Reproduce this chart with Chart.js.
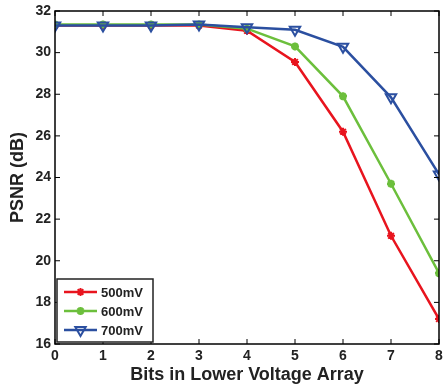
<!DOCTYPE html>
<html>
<head>
<meta charset="utf-8">
<script src="https://cdn.jsdelivr.net/npm/chart.js@4.4.1/dist/chart.umd.min.js"></script>
<style>
  html, body { margin: 0; padding: 0; background: #fff; }
  #wrap { width: 447px; height: 390px; }
</style>
</head>
<body>
<div id="wrap"><canvas id="psnr" width="447" height="390"></canvas></div>
<script>
// 데이터
const bits = [0, 1, 2, 3, 4, 5, 6, 7, 8];
const psnr500 = [31.3, 31.3, 31.3, 31.3, 31.05, 29.55, 26.2, 21.2, 17.2];
const psnr600 = [31.35, 31.35, 31.35, 31.35, 31.15, 30.3, 27.9, 23.7, 19.4];
const psnr700 = [31.3, 31.3, 31.3, 31.35, 31.22, 31.1, 30.28, 27.85, 24.15];
const seriesLabels = ['500mV', '600mV', '700mV'];

const RED = '#e8141e';
const GREEN = '#6cbf3c';
const BLUE = '#2b4fa0';
const FONT = 'Liberation Sans, Arial, sans-serif';

function toXY(values) {
  return bits.map((b, i) => ({ x: b, y: values[i] }));
}

// 프레임, 안쪽 눈금, 범례를 그리는 플러그인
const framePlugin = {
  id: 'frame',
  afterDraw(chart) {
    const { ctx, chartArea: a, scales } = chart;
    ctx.save();
    ctx.strokeStyle = '#000';
    ctx.lineWidth = 1.5;
    ctx.strokeRect(a.left, a.top, a.right - a.left, a.bottom - a.top);
    ctx.lineWidth = 1;
    const t = 5;
    for (let v = 0; v <= 8; v++) {
      const x = scales.x.getPixelForValue(v);
      ctx.beginPath();
      ctx.moveTo(x, a.bottom); ctx.lineTo(x, a.bottom - t);
      ctx.moveTo(x, a.top); ctx.lineTo(x, a.top + t);
      ctx.stroke();
    }
    for (let v = 16; v <= 32; v += 2) {
      const y = scales.y.getPixelForValue(v);
      ctx.beginPath();
      ctx.moveTo(a.left, y); ctx.lineTo(a.left + t, y);
      ctx.moveTo(a.right, y); ctx.lineTo(a.right - t, y);
      ctx.stroke();
    }

    // 범례
    const bx = a.left + 2, by = 279, bw = 96, bh = 63;
    ctx.fillStyle = '#fff';
    ctx.fillRect(bx, by, bw, bh);
    ctx.strokeStyle = '#222';
    ctx.lineWidth = 1.5;
    ctx.strokeRect(bx, by, bw, bh);
    const rows = [292, 311, 330];
    chart.data.datasets.forEach((ds, i) => {
      const y = rows[i];
      ctx.strokeStyle = ds.borderColor;
      ctx.lineWidth = 2.5;
      ctx.beginPath();
      ctx.moveTo(bx + 7, y); ctx.lineTo(bx + 40, y);
      ctx.stroke();
      ctx.fillStyle = ds.backgroundColor;
      ctx.lineWidth = ds.pointBorderWidth;
      Chart.helpers.drawPoint(ctx, {
        pointStyle: ds.pointStyle,
        rotation: ds.pointRotation || 0,
        radius: ds.pointRadius,
        borderWidth: ds.pointBorderWidth
      }, bx + 23.5, y);
      ctx.fillStyle = '#222';
      ctx.font = 'bold 13px ' + FONT;
      ctx.textBaseline = 'middle';
      ctx.textAlign = 'left';
      ctx.fillText(ds.label, bx + 44, y + 1);
    });
    ctx.restore();
  }
};

const ctx = document.getElementById('psnr').getContext('2d');
new Chart(ctx, {
  type: 'line',
  data: {
    datasets: [
      {
        label: seriesLabels[0],
        data: toXY(psnr500),
        borderColor: RED,
        backgroundColor: RED,
        borderWidth: 2.5,
        pointStyle: 'star',
        pointRadius: 4,
        pointBorderWidth: 2,
        pointBorderColor: RED,
        order: 3
      },
      {
        label: seriesLabels[1],
        data: toXY(psnr600),
        borderColor: GREEN,
        backgroundColor: GREEN,
        borderWidth: 2.5,
        pointStyle: 'star',
        pointRadius: 4,
        pointBorderWidth: 2.5,
        pointBorderColor: GREEN,
        order: 2
      },
      {
        label: seriesLabels[2],
        data: toXY(psnr700),
        borderColor: BLUE,
        backgroundColor: 'rgba(255,255,255,0)',
        borderWidth: 2.5,
        pointStyle: 'triangle',
        pointRotation: 180,
        pointRadius: 6,
        pointBorderWidth: 2,
        pointBorderColor: BLUE,
        order: 1
      }
    ]
  },
  options: {
    responsive: false,
    animation: false,
    devicePixelRatio: 1,
    layout: { padding: { top: 11, right: 2, left: 0, bottom: 0 } },
    plugins: { legend: { display: false }, tooltip: { enabled: false } },
    elements: { line: { tension: 0 } },
    scales: {
      x: {
        type: 'linear',
        min: 0,
        max: 8,
        grid: { display: false, drawTicks: false },
        border: { display: false },
        ticks: {
          stepSize: 1,
          autoSkip: false,
          padding: 4,
          color: '#222',
          font: { family: FONT, size: 14, weight: 'bold' },
          maxRotation: 0
        },
        title: {
          display: true,
          text: 'Bits in Lower Voltage Array',
          color: '#222',
          font: { family: FONT, size: 18, weight: 'bold' },
          padding: { top: 0, bottom: 4 }
        },
        afterFit(scale) {
          scale.height = 46;
          scale.paddingLeft = 0;
          scale.paddingRight = 0;
        }
      },
      y: {
        min: 16,
        max: 32,
        grid: { display: false, drawTicks: false },
        border: { display: false },
        ticks: {
          stepSize: 2,
          autoSkip: false,
          padding: 4,
          color: '#222',
          font: { family: FONT, size: 14, weight: 'bold' }
        },
        title: {
          display: true,
          text: 'PSNR (dB)',
          color: '#222',
          font: { family: FONT, size: 18, weight: 'bold' },
          padding: { top: 7, bottom: 0 }
        },
        afterFit(scale) {
          scale.width = 55;
          scale.paddingTop = 0;
          scale.paddingBottom = 0;
        }
      }
    }
  },
  plugins: [framePlugin]
});
</script>
</body>
</html>
